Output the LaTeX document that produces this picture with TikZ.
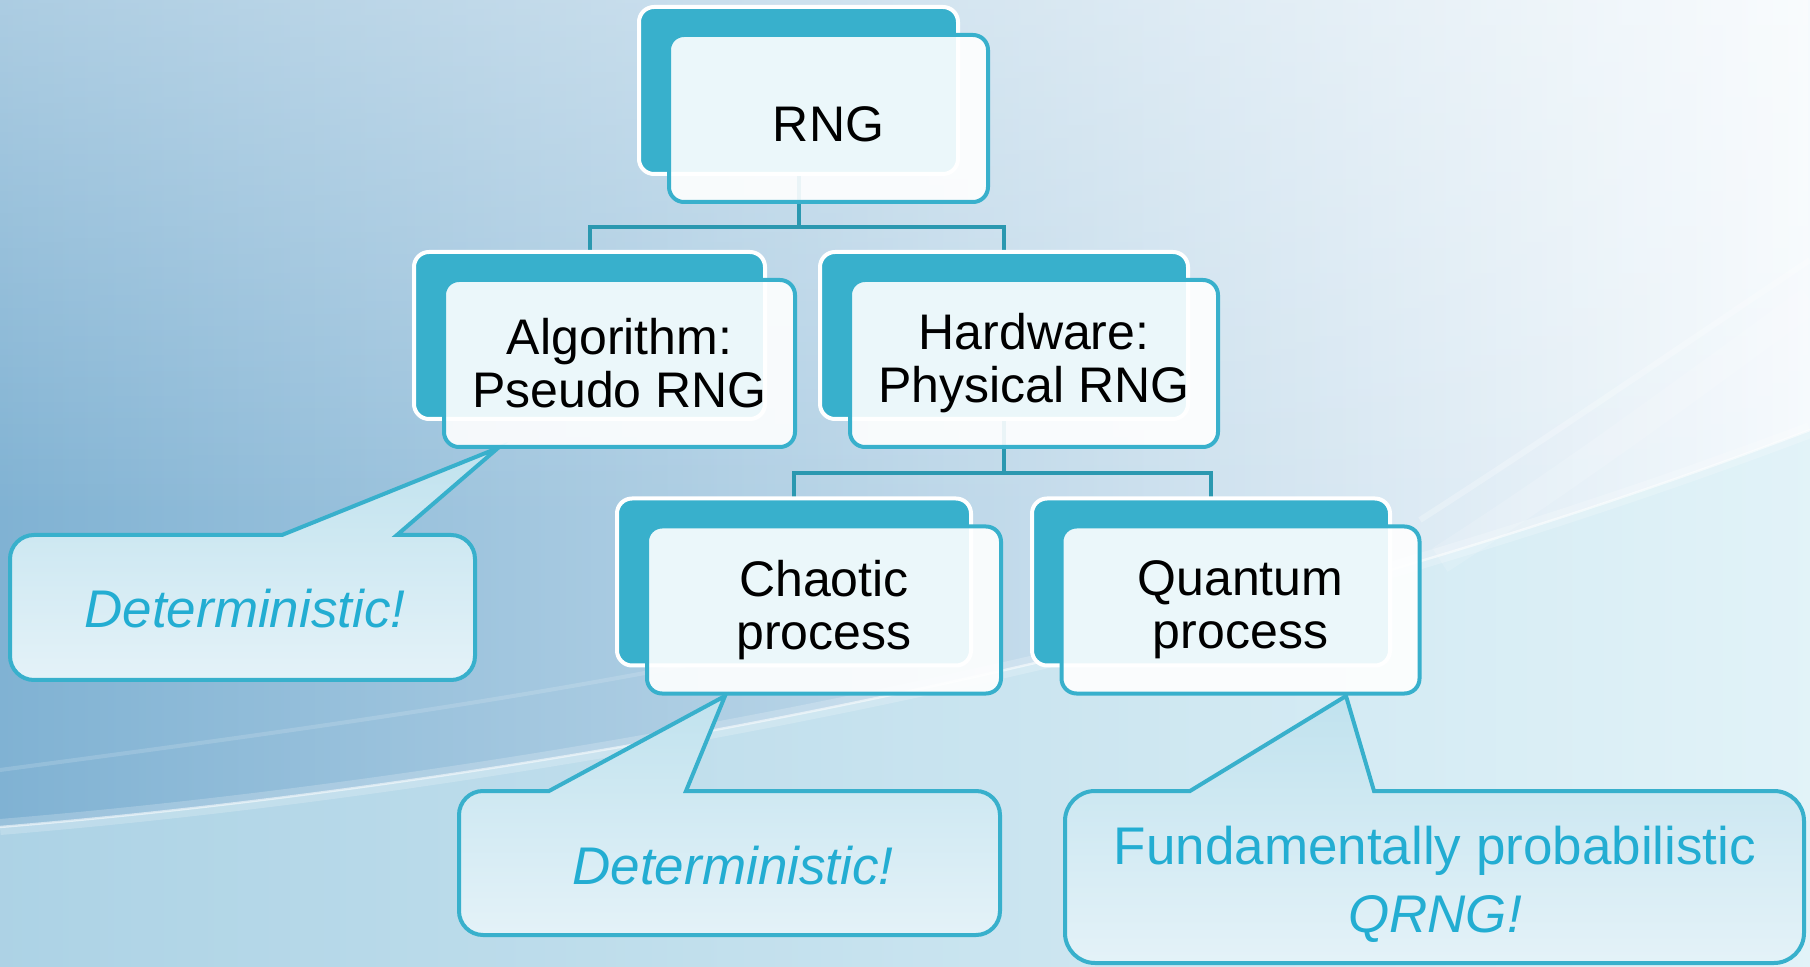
\documentclass[tikz,border=0pt]{standalone}
\usepackage{fontspec}
\setmainfont{Liberation Sans}
\usetikzlibrary{fadings}
\pgfdeclarelayer{background}
\pgfdeclarelayer{links}
\pgfsetlayers{background,links,main}
\definecolor{boxteal}{RGB}{56,176,204}
\definecolor{linkteal}{RGB}{43,152,176}
\definecolor{bubbletext}{RGB}{35,173,210}
\definecolor{bubbletop}{RGB}{192,226,238}
\definecolor{bubblebot}{RGB}{228,242,248}
\definecolor{bgleft}{RGB}{128,178,211}
\definecolor{bgmid}{RGB}{198,226,242}
\definecolor{bgright}{RGB}{246,250,253}
\definecolor{arcfill}{RGB}{210,238,245}

\begin{document}
\begin{tikzpicture}[x=0.5pt, y=-0.5pt,
    backbox/.style={rectangle, rounded corners=7.5pt, fill=boxteal, draw=white, line width=2pt,
      minimum height=83.5pt, inner sep=0pt, outer sep=0pt},
    frontbox/.style={rectangle, rounded corners=7.5pt, fill=white, fill opacity=0.9, text opacity=1,
      draw=boxteal, line width=2pt, minimum height=83.5pt, inner sep=0pt, outer sep=0pt,
      align=center, font=\fontsize{25pt}{26.5pt}\selectfont,
      execute at begin node={\rule{0pt}{23pt}}},
    link/.style={draw=linkteal, line width=2pt},
    bubble/.style={draw=boxteal, line width=2pt, top color=bubbletop, bottom color=bubblebot},
    bubblelabel/.style={text=bubbletext, align=center, font=\fontsize{26.5pt}{34pt}\selectfont}]

    \useasboundingbox (0,0) rectangle (1810,967);

    \begin{pgfonlayer}{background}
    \shade[left color=bgleft, middle color=bgmid, right color=bgright] (0,0) rectangle (1810,967);
    \fill[white, fill opacity=0.35, path fading=south] (0,0) rectangle (1810,520);
    \fill[arcfill, fill opacity=0.55] (0,827) .. controls (450,790) and (1150,680) .. (1810,430)
      -- (1810,967) -- (0,967) -- cycle;
    \draw[white, opacity=0.2, line width=8pt] (0,827) .. controls (450,790) and (1150,680) .. (1810,430);
    \draw[white, opacity=0.55, line width=1.2pt] (0,827) .. controls (450,790) and (1150,680) .. (1810,430);
    \draw[white, opacity=0.15, line width=2pt] (0,770) .. controls (300,730) and (600,690) .. (900,620);
    \draw[white, opacity=0.15, line width=14pt] (1440,560) .. controls (1580,470) and (1700,380) .. (1810,300);
    \draw[white, opacity=0.25, line width=3pt] (1420,520) .. controls (1560,430) and (1690,340) .. (1810,260);
    \end{pgfonlayer}

    \draw[bubble] (282,535) -- (498,448) -- (397,535) -- (451,535) arc(-90:0:24) -- (475,656)
      arc(0:90:24) -- (34,680) arc(90:180:24) -- (10,559) arc(180:270:24) -- cycle;
    \draw[bubble] (549,791) -- (725,696) -- (686,791) -- (976,791) arc(-90:0:24) -- (1000,911)
      arc(0:90:24) -- (483,935) arc(90:180:24) -- (459,815) arc(180:270:24) -- cycle;
    \draw[bubble] (1190,791) -- (1346,696) -- (1374,791) -- (1774,791) arc(-90:0:30) -- (1804,933)
      arc(0:90:30) -- (1095,963) arc(90:180:30) -- (1065,821) arc(180:270:30) -- cycle;

    \node[bubblelabel] (det1) at (245,609) {\itshape Deterministic!};
    \node[bubblelabel] (det2) at (733,866) {\itshape Deterministic!};
    \node[bubblelabel] (qrng) at (1435,884) {Fundamentally probabilistic\\ \itshape QRNG!};

    \node[backbox, minimum width=159.5pt] (rngback) at (798.5,90.5) {};
    \node[frontbox, minimum width=159.5pt] (rng) at (828.5,118.5) {RNG};

    \node[backbox, minimum width=175.5pt] (prngback) at (589.5,335.5) {};
    \node[frontbox, minimum width=175.5pt] (prng) at (619.5,363.5) {Algorithm:\\Pseudo RNG};

    \node[backbox, minimum width=184pt] (trngback) at (1004,335.5) {};
    \node[frontbox, minimum width=184pt] (trng) at (1034,363.5) {Hardware:\\Physical RNG};

    \node[backbox, minimum width=177pt] (chaosback) at (794,582) {};
    \node[frontbox, minimum width=177pt] (chaos) at (824,610) {Chaotic\\process};

    \node[backbox, minimum width=179pt] (quantumback) at (1211,582) {};
    \node[frontbox, minimum width=179pt] (quantum) at (1240.5,610) {Quantum\\process};

    \coordinate (bus1) at (0,227);
    \coordinate (bus2) at (0,473);

    \begin{pgfonlayer}{links}
    \draw[link] (rngback.center) -- (rngback.center |- bus1) -| (prngback.center);
    \draw[link] (rngback.center |- bus1) -| (trngback.center);
    \draw[link] (trngback.center) -- (trngback.center |- bus2) -| (chaosback.center);
    \draw[link] (trngback.center |- bus2) -| (quantumback.center);
    \end{pgfonlayer}

\end{tikzpicture}
\end{document}
